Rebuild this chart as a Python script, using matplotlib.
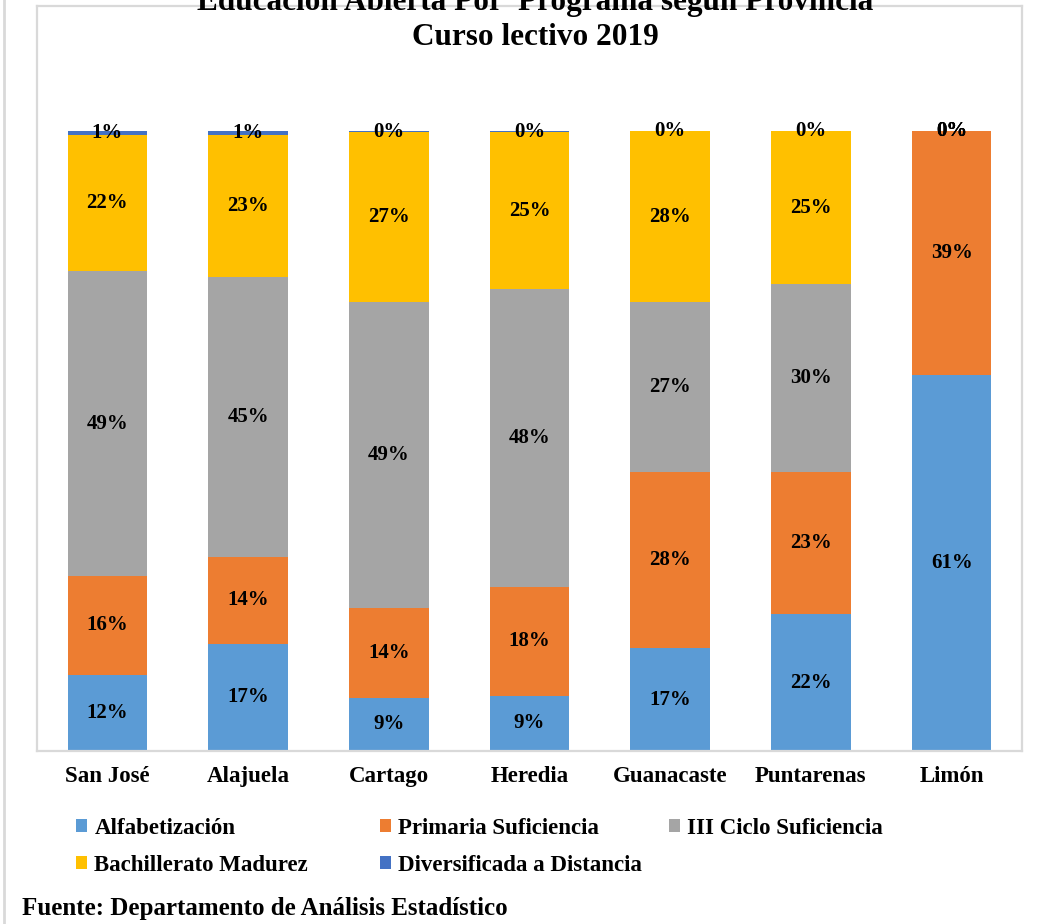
import matplotlib.pyplot as plt
from matplotlib.lines import Line2D
import numpy as np

plt.rcParams['font.family'] = ['Liberation Serif', 'DejaVu Serif']
plt.rcParams['font.weight'] = 'bold'

provincias = ["San José", "Alajuela", "Cartago", "Heredia", "Guanacaste", "Puntarenas", "Limón"]
programas = ["Alfabetización", "Primaria Suficiencia", "III Ciclo Suficiencia",
             "Bachillerato Madurez", "Diversificada a Distancia"]
colores = ["#5B9BD5", "#ED7D31", "#A5A5A5", "#FFC000", "#4472C4"]

# porcentajes por programa (orden de provincias)
alfabetizacion = [12.3, 17.3, 8.6, 8.9, 16.6, 22.1, 60.6]
primaria = [15.9, 14.0, 14.4, 17.6, 28.4, 22.9, 39.4]
tercer_ciclo = [49.2, 45.2, 49.4, 48.0, 27.4, 30.3, 0.0]
bachillerato = [22.0, 22.9, 27.4, 25.3, 27.6, 24.7, 0.0]
diversificada = [0.6, 0.6, 0.2, 0.2, 0.0, 0.0, 0.0]

series = [alfabetizacion, primaria, tercer_ciclo, bachillerato, diversificada]

fig = plt.figure(figsize=(10.55, 9.24), dpi=100)
ax = fig.add_axes([0.0351, 0.1872, 0.9336, 0.8063])

x = np.arange(len(provincias))
bottom = np.zeros(len(provincias))
handles = []
for nombre, vals, col in zip(programas, series, colores):
    vals = np.array(vals)
    bars = ax.bar(x, vals, 0.565, bottom=bottom, color=col, label=nombre)
    ax.bar_label(bars, labels=[f"{v:.0f}%" for v in vals], label_type='center',
                 fontsize=15, fontweight='bold', color='black')
    bottom += vals
    handles.append(bars)

ax.set_xlim(-0.5, len(provincias) - 0.5)
ax.set_ylim(0, 100 * 745 / 620)
ax.set_yticks([])
ax.set_xticks(x)
ax.set_xticklabels(provincias, fontsize=16.5, fontweight='bold')
ax.tick_params(axis='x', length=0, pad=11)
for s in ax.spines.values():
    s.set_color('#D9D9D9')
    s.set_linewidth(1.6)

fig.text(0.507, 1 - 10 / 924, "Educación Abierta Por  Programa según Provincia",
         ha='center', va='baseline', fontsize=22.5, fontweight='bold')
fig.text(0.507, 1 - 45 / 924, "Curso lectivo 2019",
         ha='center', va='baseline', fontsize=22.5, fontweight='bold')

# leyenda en tres columnas colocadas a mano
columnas = [[0, 3], [1, 4], [2]]
col_x = [76, 380, 669]
for idx, cx in zip(columnas, col_x):
    fig.legend([handles[i] for i in idx], [programas[i] for i in idx],
               loc='upper left', bbox_to_anchor=(cx / 1055, 1 - 818 / 924),
               frameon=False, fontsize=16.5, handlelength=0.5, handleheight=0.5,
               handletextpad=0.3, labelspacing=0.7, borderaxespad=0, borderpad=0)

fig.text(0.021, 1 - 908 / 924, "Fuente: Departamento de Análisis Estadístico",
         ha='left', va='center', fontsize=18, fontweight='bold')

fig.add_artist(Line2D([4 / 1055, 4 / 1055], [0, 1], color='#D9D9D9', lw=2,
                      transform=fig.transFigure))

fig.savefig("out.png", dpi=100)
